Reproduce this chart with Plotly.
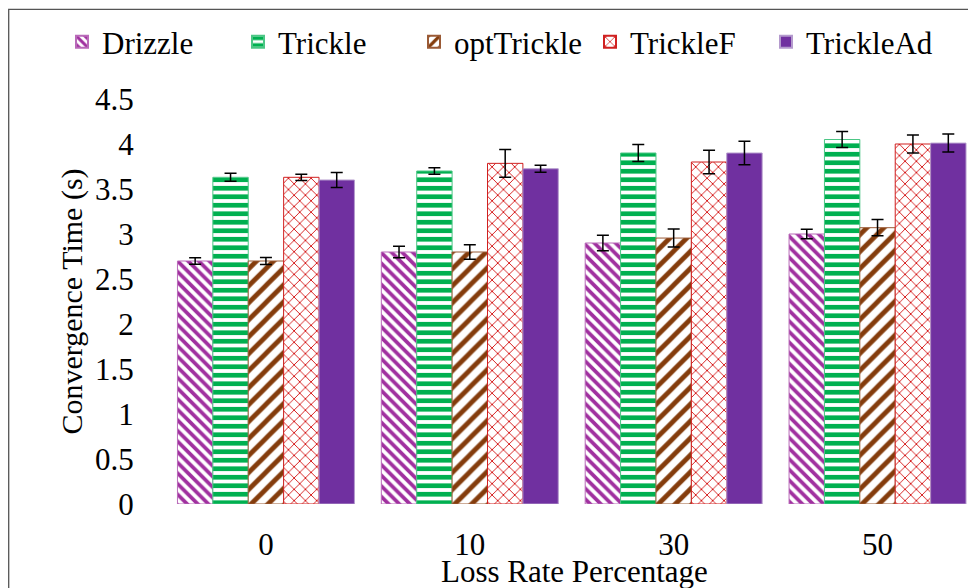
import plotly.graph_objects as go

categories = ["0", "10", "30", "50"]
series_names = ["Drizzle", "Trickle", "optTrickle", "TrickleF", "TrickleAd"]
drizzle = [2.70, 2.80, 2.90, 3.00]
drizzle_err = [0.037, 0.065, 0.085, 0.052]
trickle = [3.63, 3.70, 3.90, 4.05]
trickle_err = [0.045, 0.037, 0.094, 0.09]
opt_trickle = [2.70, 2.80, 2.955, 3.07]
opt_trickle_err = [0.04, 0.08, 0.10, 0.09]
trickle_f = [3.63, 3.785, 3.80, 4.00]
trickle_f_err = [0.035, 0.155, 0.13, 0.10]
trickle_ad = [3.60, 3.725, 3.90, 4.01]
trickle_ad_err = [0.083, 0.04, 0.13, 0.10]
y_ticks = [0, 0.5, 1, 1.5, 2, 2.5, 3, 3.5, 4, 4.5]
y_tick_text = ["0", "0.5", "1", "1.5", "2", "2.5", "3", "3.5", "4", "4.5"]
x_title = "Loss Rate Percentage"
y_title = "Convergence Time (s)"

values = [drizzle, trickle, opt_trickle, trickle_f, trickle_ad]
errors = [drizzle_err, trickle_err, opt_trickle_err, trickle_f_err, trickle_ad_err]

styles = [
    dict(color="white", line=dict(color="#B96AB9", width=1),
         pattern=dict(shape="\\", fgcolor="#A0309F", bgcolor="white", size=7.5,
                      solidity=0.5, fgopacity=1)),
    dict(color="white", line=dict(color="#4CC685", width=1),
         pattern=dict(shape="-", fgcolor="#00B050", bgcolor="white", size=8.5,
                      solidity=0.55, fgopacity=1)),
    dict(color="white", line=dict(color="#9A5A35", width=1),
         pattern=dict(shape="/", fgcolor="#843C0C", bgcolor="white", size=12,
                      solidity=0.4, fgopacity=1)),
    dict(color="white", line=dict(color="#D02020", width=1),
         pattern=dict(shape="x", fgcolor="#D00000", bgcolor="white", size=8,
                      solidity=0.2, fgopacity=1)),
    dict(color="#7030A0", line=dict(color="#B49ACD", width=1)),
]

FONT = "Liberation Serif, Times New Roman, serif"

# page is offset by the 8px body margin, so figure coords = page coords - 8
W, H = 968, 580
ML, MT, MB = 156, 91, 84
PW, PH = W - ML, H - MT - MB

fig = go.Figure()
for name, vals, errs, st in zip(series_names, values, errors, styles):
    fig.add_trace(go.Bar(
        name=name, x=categories, y=vals,
        marker=st,
        error_y=dict(type="data", array=errs, visible=True, color="black",
                     thickness=1.5, width=6),
    ))

fig.update_layout(
    width=W, height=H,
    barmode="group", bargap=0.132, bargroupgap=0,
    plot_bgcolor="white", paper_bgcolor="white",
    margin=dict(l=ML, r=0, t=MT, b=MB, autoexpand=False),
    font=dict(family=FONT, size=31, color="black"),
    showlegend=True,
    legend=dict(orientation="h", xref="paper", yref="paper",
                x=(54 - ML) / PW, y=1 + (MT - 34) / PH, xanchor="left", yanchor="middle",
                font=dict(family=FONT, size=31, color="black"),
                entrywidth=131, entrywidthmode="pixels",
                bgcolor="rgba(0,0,0,0)", itemsizing="constant"),
    xaxis=dict(range=[-0.5, 3.483], showgrid=False, showline=False, zeroline=False,
               ticks="outside", ticklen=13, tickcolor="rgba(0,0,0,0)",
               tickfont=dict(family=FONT, size=31)),
    yaxis=dict(range=[0, 4.5], tickvals=y_ticks, ticktext=y_tick_text,
               showgrid=False, showline=False, zeroline=False,
               ticks="outside", ticklen=23, tickcolor="rgba(0,0,0,0)",
               tickfont=dict(family=FONT, size=31),
               title=dict(text=y_title, standoff=3,
                          font=dict(family=FONT, size=30))),
    annotations=[dict(text=x_title, xref="paper", yref="paper",
                      x=(566.5 - ML) / PW, y=-(563 - (MT + PH)) / PH,
                      xanchor="center", yanchor="middle", showarrow=False,
                      font=dict(family=FONT, size=31, color="black"))],
    shapes=[dict(type="rect", xref="paper", yref="paper",
                 x0=(0.7 - ML) / PW, x1=1.05, y0=-0.3, y1=(PH + MT - 1.3) / PH,
                 line=dict(color="#555555", width=1.3), fillcolor="rgba(0,0,0,0)",
                 layer="below")],
)

fig.write_html("out.html")
